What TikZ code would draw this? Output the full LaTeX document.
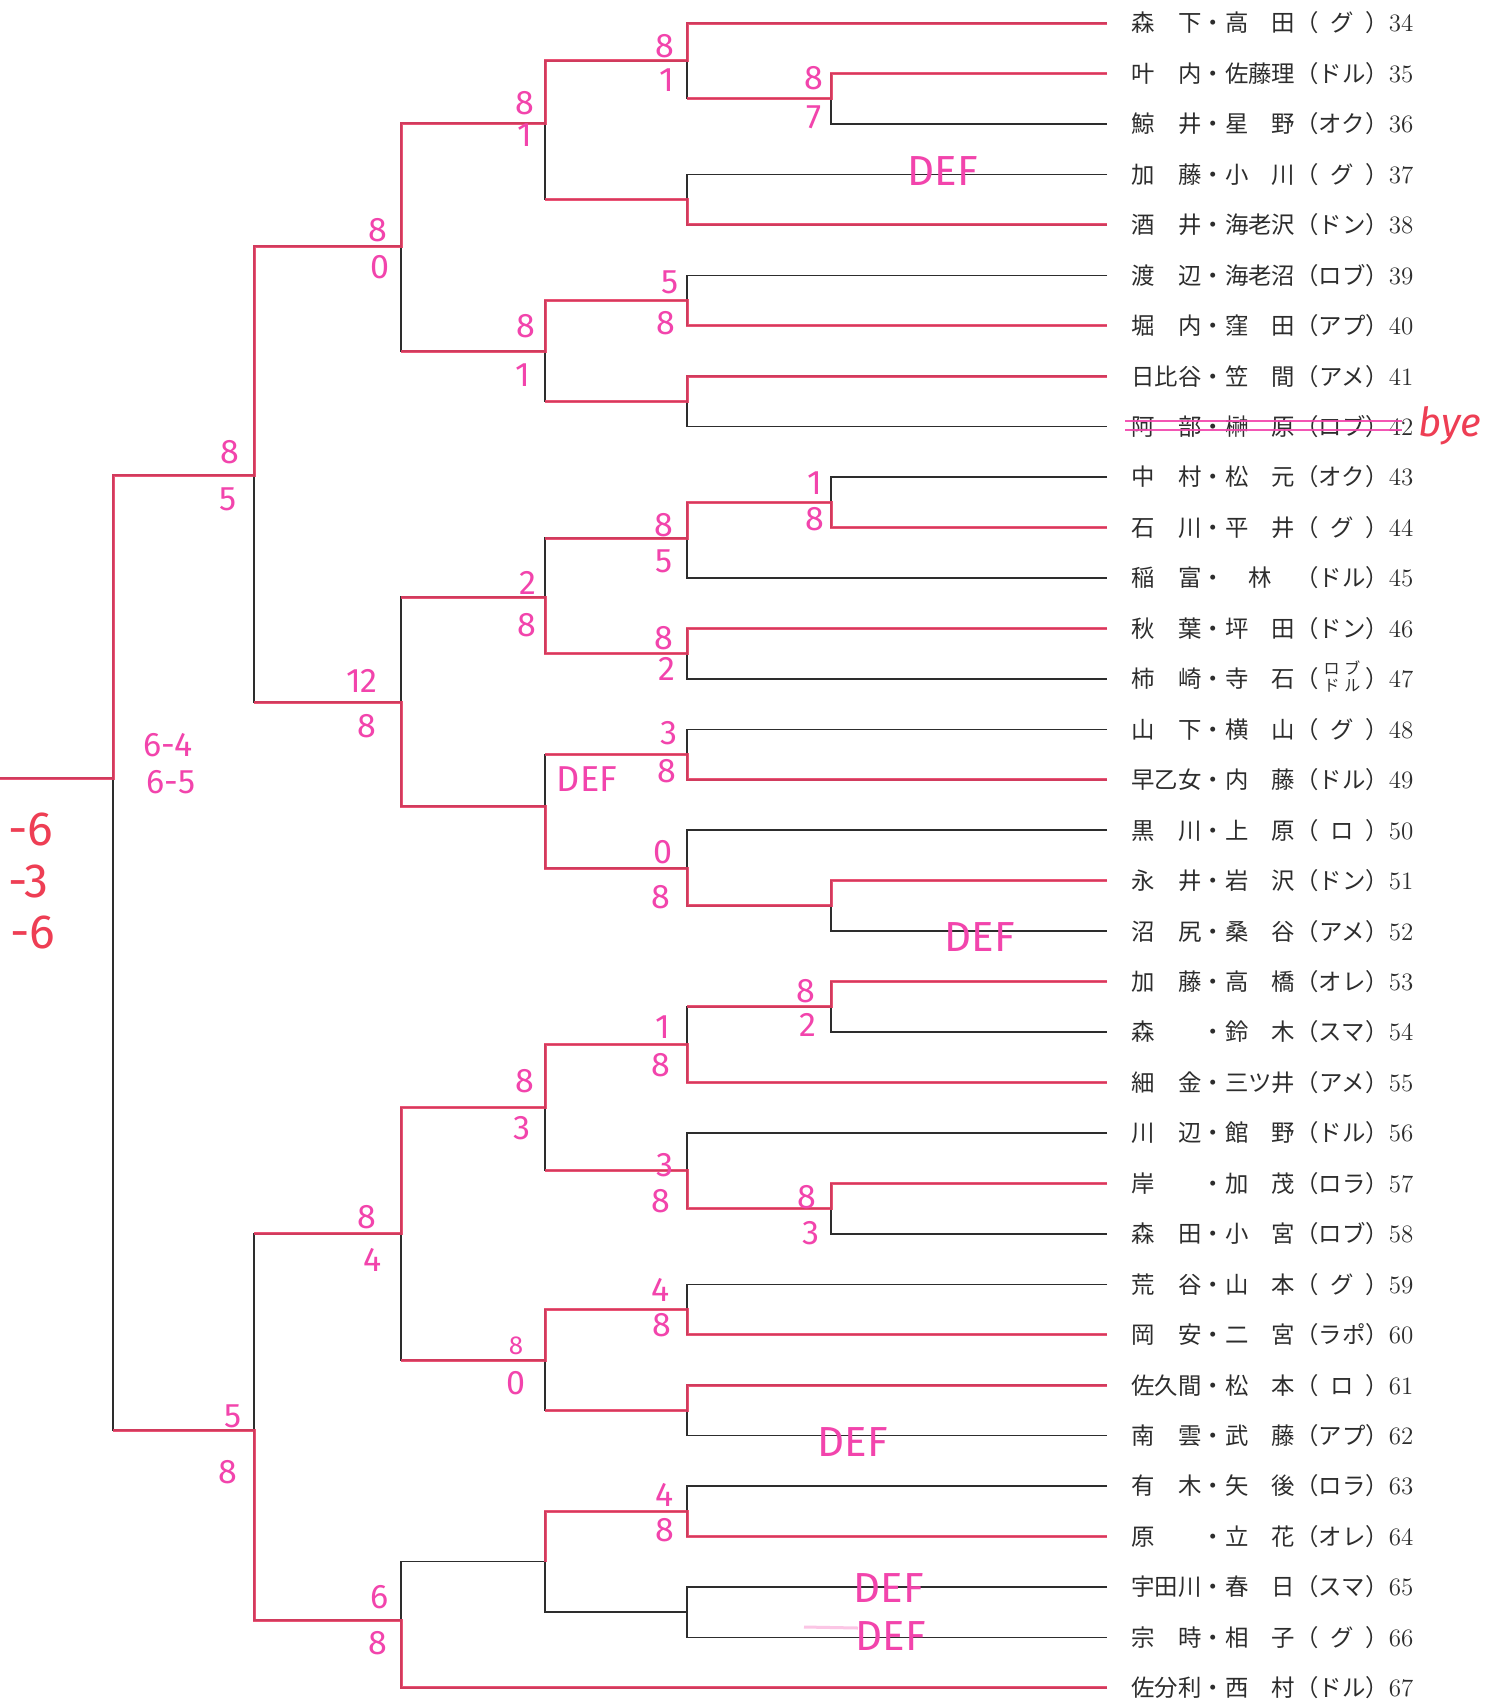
\documentclass[tikz,border=0pt]{standalone}
\usepackage{fontspec}
\newfontfamily\cjk{Noto Sans CJK JP}
\newfontfamily\hand{Fira Sans}
\definecolor{ink}{RGB}{45,45,45}
\definecolor{pinkline}{RGB}{232,62,100}
\definecolor{mag}{RGB}{242,68,172}
\definecolor{redhand}{RGB}{238,62,84}
\newcommand\nmfont{\rmfamily\fontsize{12.5pt}{12.5pt}\selectfont}
\newcommand\ent[3]{#1（\makebox[2em][c]{#2}）{\nmfont #3}}
\newcommand\stk[2]{\raisebox{2.6pt}[0.88em][0.12em]{\fontsize{8pt}{8.2pt}\selectfont\begin{tabular}[c]{@{}c@{}}#1\\#2\end{tabular}}}
\begin{document}
\begin{tikzpicture}[x=0.5pt,y=-0.5pt,
  bl/.style={draw=ink,line width=0.75pt},
  pk/.style={draw=pinkline,line width=1.5pt,opacity=0.88},
  entry/.style={anchor=west,inner sep=0pt,text=ink,font=\cjk\fontsize{11.7pt}{12pt}\selectfont},
  sc/.style={inner sep=0pt,text height=11.7pt,text depth=0pt,text=mag,font=\hand\fontsize{17pt}{17pt}\selectfont},
  scs/.style={sc,text height=9pt,font=\hand\fontsize{13pt}{13pt}\selectfont},
  defl/.style={inner sep=0pt,text height=14.5pt,text depth=0pt,text=mag,font=\hand\fontsize{21pt}{21pt}\selectfont},
  rd/.style={inner sep=0pt,text height=16.6pt,text depth=0pt,text=redhand,font=\hand\fontsize{24pt}{24pt}\selectfont}]
\useasboundingbox (0,0) rectangle (1507,1704);
\fill[white] (0,0) rectangle (1507,1704);
\def\XE{1107}\def\XT{1131}
% row line ends
\coordinate (r34) at (\XE,23.00);
\coordinate (r35) at (\XE,73.45);
\coordinate (r36) at (\XE,123.90);
\coordinate (r37) at (\XE,174.35);
\coordinate (r38) at (\XE,224.80);
\coordinate (r39) at (\XE,275.25);
\coordinate (r40) at (\XE,325.70);
\coordinate (r41) at (\XE,376.15);
\coordinate (r42) at (\XE,426.60);
\coordinate (r43) at (\XE,477.05);
\coordinate (r44) at (\XE,527.50);
\coordinate (r45) at (\XE,577.95);
\coordinate (r46) at (\XE,628.40);
\coordinate (r47) at (\XE,678.85);
\coordinate (r48) at (\XE,729.30);
\coordinate (r49) at (\XE,779.75);
\coordinate (r50) at (\XE,830.20);
\coordinate (r51) at (\XE,880.65);
\coordinate (r52) at (\XE,931.10);
\coordinate (r53) at (\XE,981.55);
\coordinate (r54) at (\XE,1032.00);
\coordinate (r55) at (\XE,1082.45);
\coordinate (r56) at (\XE,1132.90);
\coordinate (r57) at (\XE,1183.35);
\coordinate (r58) at (\XE,1233.80);
\coordinate (r59) at (\XE,1284.25);
\coordinate (r60) at (\XE,1334.70);
\coordinate (r61) at (\XE,1385.15);
\coordinate (r62) at (\XE,1435.60);
\coordinate (r63) at (\XE,1486.05);
\coordinate (r64) at (\XE,1536.50);
\coordinate (r65) at (\XE,1586.95);
\coordinate (r66) at (\XE,1637.40);
\coordinate (r67) at (\XE,1687.85);
% entries
\node[entry] (e34) at (\XT,23.00) {\ent{森　下・高　田}{グ}{34}};
\node[entry] (e35) at (\XT,73.45) {\ent{叶　内・佐藤理}{ドル}{35}};
\node[entry] (e36) at (\XT,123.90) {\ent{鯨　井・星　野}{オク}{36}};
\node[entry] (e37) at (\XT,174.35) {\ent{加　藤・小　川}{グ}{37}};
\node[entry] (e38) at (\XT,224.80) {\ent{酒　井・海老沢}{ドン}{38}};
\node[entry] (e39) at (\XT,275.25) {\ent{渡　辺・海老沼}{ロブ}{39}};
\node[entry] (e40) at (\XT,325.70) {\ent{堀　内・窪　田}{アプ}{40}};
\node[entry] (e41) at (\XT,376.15) {\ent{日比谷・笠　間}{アメ}{41}};
\node[entry] (e42) at (\XT,426.60) {\ent{阿　部・榊　原}{ロブ}{42}};
\node[entry] (e43) at (\XT,477.05) {\ent{中　村・松　元}{オク}{43}};
\node[entry] (e44) at (\XT,527.50) {\ent{石　川・平　井}{グ}{44}};
\node[entry] (e45) at (\XT,577.95) {\ent{稲　富・　林　}{ドル}{45}};
\node[entry] (e46) at (\XT,628.40) {\ent{秋　葉・坪　田}{ドン}{46}};
\node[entry] (e47) at (\XT,678.85) {\ent{柿　崎・寺　石}{\stk{ロ\hspace{0.3em}ブ}{ド\hspace{0.3em}ル}}{47}};
\node[entry] (e48) at (\XT,729.30) {\ent{山　下・横　山}{グ}{48}};
\node[entry] (e49) at (\XT,779.75) {\ent{早乙女・内　藤}{ドル}{49}};
\node[entry] (e50) at (\XT,830.20) {\ent{黒　川・上　原}{ロ}{50}};
\node[entry] (e51) at (\XT,880.65) {\ent{永　井・岩　沢}{ドン}{51}};
\node[entry] (e52) at (\XT,931.10) {\ent{沼　尻・桑　谷}{アメ}{52}};
\node[entry] (e53) at (\XT,981.55) {\ent{加　藤・高　橋}{オレ}{53}};
\node[entry] (e54) at (\XT,1032.00) {\ent{森　　・鈴　木}{スマ}{54}};
\node[entry] (e55) at (\XT,1082.45) {\ent{細　金・三ツ井}{アメ}{55}};
\node[entry] (e56) at (\XT,1132.90) {\ent{川　辺・館　野}{ドル}{56}};
\node[entry] (e57) at (\XT,1183.35) {\ent{岸　　・加　茂}{ロラ}{57}};
\node[entry] (e58) at (\XT,1233.80) {\ent{森　田・小　宮}{ロブ}{58}};
\node[entry] (e59) at (\XT,1284.25) {\ent{荒　谷・山　本}{グ}{59}};
\node[entry] (e60) at (\XT,1334.70) {\ent{岡　安・二　宮}{ラポ}{60}};
\node[entry] (e61) at (\XT,1385.15) {\ent{佐久間・松　本}{ロ}{61}};
\node[entry] (e62) at (\XT,1435.60) {\ent{南　雲・武　藤}{アプ}{62}};
\node[entry] (e63) at (\XT,1486.05) {\ent{有　木・矢　後}{ロラ}{63}};
\node[entry] (e64) at (\XT,1536.50) {\ent{原　　・立　花}{オレ}{64}};
\node[entry] (e65) at (\XT,1586.95) {\ent{宇田川・春　日}{スマ}{65}};
\node[entry] (e66) at (\XT,1637.40) {\ent{宗　時・相　子}{グ}{66}};
\node[entry] (e67) at (\XT,1687.85) {\ent{佐分利・西　村}{ドル}{67}};
% junctions
\coordinate (A1) at (831,98.7);
\coordinate (A2) at (687,60.8);
\coordinate (A3) at (687,199.6);
\coordinate (A4) at (545,123);
\coordinate (A5) at (687,300.5);
\coordinate (A6) at (687,401.4);
\coordinate (A7) at (545,351);
\coordinate (A8) at (401,246);
\coordinate (B1) at (831,502.3);
\coordinate (B2) at (687,538);
\coordinate (B3) at (687,653.6);
\coordinate (B4) at (545,597);
\coordinate (B5) at (687,754.5);
\coordinate (B6) at (831,905.9);
\coordinate (B7) at (687,868);
\coordinate (B8) at (545,806);
\coordinate (B9) at (401,702);
\coordinate (C1) at (254,475);
\coordinate (D1) at (831,1006.8);
\coordinate (D2) at (687,1044.6);
\coordinate (D3) at (831,1208.6);
\coordinate (D4) at (687,1170.7);
\coordinate (D5) at (545,1107.7);
\coordinate (D6) at (687,1309.5);
\coordinate (D7) at (687,1410.4);
\coordinate (D8) at (545,1360);
\coordinate (D9) at (401,1233.8);
\coordinate (E1) at (687,1511.3);
\coordinate (E2) at (687,1612.2);
\coordinate (E3) at (545,1561.7);
\coordinate (E4) at (401,1620);
\coordinate (D10) at (254,1430);
\coordinate (F) at (113,778);
\coordinate (Fl) at (0,778);
% black bracket
\draw[bl] (r35) -| (A1) |- (r36);
\draw[bl] (r34) -| (A2) |- (A1);
\draw[bl] (r37) -| (A3) |- (r38);
\draw[bl] (A2) -| (A4) |- (A3);
\draw[bl] (r39) -| (A5) |- (r40);
\draw[bl] (r41) -| (A6) |- (r42);
\draw[bl] (A5) -| (A7) |- (A6);
\draw[bl] (A4) -| (A8) |- (A7);
\draw[bl] (r43) -| (B1) |- (r44);
\draw[bl] (B1) -| (B2) |- (r45);
\draw[bl] (r46) -| (B3) |- (r47);
\draw[bl] (B2) -| (B4) |- (B3);
\draw[bl] (r48) -| (B5) |- (r49);
\draw[bl] (r51) -| (B6) |- (r52);
\draw[bl] (r50) -| (B7) |- (B6);
\draw[bl] (B5) -| (B8) |- (B7);
\draw[bl] (B4) -| (B9) |- (B8);
\draw[bl] (A8) -| (C1) |- (B9);
\draw[bl] (r53) -| (D1) |- (r54);
\draw[bl] (D1) -| (D2) |- (r55);
\draw[bl] (r57) -| (D3) |- (r58);
\draw[bl] (r56) -| (D4) |- (D3);
\draw[bl] (D2) -| (D5) |- (D4);
\draw[bl] (r59) -| (D6) |- (r60);
\draw[bl] (r61) -| (D7) |- (r62);
\draw[bl] (D6) -| (D8) |- (D7);
\draw[bl] (D5) -| (D9) |- (D8);
\draw[bl] (r63) -| (E1) |- (r64);
\draw[bl] (r65) -| (E2) |- (r66);
\draw[bl] (E1) -| (E3) |- (E2);
\draw[bl] (E3) -| (E4) |- (r67);
\draw[bl] (D9) -| (D10) |- (E4);
\draw[bl] (C1) -| (F) |- (D10);
\draw[bl] (F) -- (Fl);
% pink winner paths
\draw[pk] (r34) -| (A2) -| (A4) -| (A8) -| (C1) -| (F) -- (Fl);
\draw[pk] (r35) -| (A1) -- (A1 -| A2);
\draw[pk] (r38) -| (A3) -- (A3 -| A4);
\draw[pk] (r40) -| (A5) -| (A7) -- (A7 -| A8);
\draw[pk] (r41) -| (A6) -- (A6 -| A7);
\draw[pk] (r44) -| (B1) -| (B2) -- (B2 -| B4);
\draw[pk] (r46) -| (B3) -| (B4) -- (B4 -| B9);
\draw[pk] (r49) -| (B5) -- (B5 -| B8);
\draw[pk] (r51) -| (B6) -| (B7) -| (B8) -| (B9) -- (B9 -| C1);
\draw[pk] (r53) -| (D1) -- (D1 -| D2);
\draw[pk] (r55) -| (D2) -| (D5) -| (D9) -- (D9 -| D10);
\draw[pk] (r57) -| (D3) -| (D4) -- (D4 -| D5);
\draw[pk] (r60) -| (D6) -| (D8) -- (D8 -| D9);
\draw[pk] (r61) -| (D7) -- (D7 -| D8);
\draw[pk] (r64) -| (E1) -| (E3);
\draw[pk] (r67) -| (E4) -| (D10) -- (D10 -| F);
% bye strike-through
\coordinate (k1a) at (1125,421); \coordinate (k1b) at (1402,421);
\coordinate (k2a) at (1125,430); \coordinate (k2b) at (1402,430);
\draw[draw=mag,line width=1.4pt,opacity=0.9] (k1a) -- (k1b);
\draw[draw=mag,line width=1.4pt,opacity=0.9] (k2a) -- (k2b);
\node[inner sep=0pt,text=redhand,font=\hand\itshape\fontsize{20pt}{20pt}\selectfont] (bye) at (1450,426) {bye};
% scores
\node[sc] (s1) at (665,46) {8};   \node[sc] (s2) at (667,80) {1};
\node[sc] (s3) at (814,78) {8};   \node[sc] (s4) at (814,117) {7};
\node[sc] (s5) at (525,103) {8};  \node[sc] (s6) at (525,135) {1};
\node[sc] (s7) at (378,230) {8};  \node[sc] (s8) at (380,267) {0};
\node[sc] (s9) at (670,282) {5};  \node[sc] (s10) at (666,323) {8};
\node[sc] (s11) at (526,326) {8}; \node[sc] (s12) at (523,375) {1};
\node[sc] (s13) at (230,452) {8}; \node[sc] (s14) at (228,499) {5};
\node[sc] (s15) at (815,483) {1}; \node[sc] (s16) at (815,519) {8};
\node[sc] (s17) at (664,525) {8}; \node[sc] (s18) at (664,561) {5};
\node[sc] (s19) at (528,583) {2}; \node[sc] (s20) at (527,625) {8};
\node[sc] (s21) at (664,638) {8}; \node[sc] (s22) at (667,669) {2};
\node[sc] (s23) at (362,681) {12}; \node[sc] (s24) at (367,726) {8};
\node[sc] (s25) at (669,733) {3}; \node[sc] (s26) at (667,771) {8};
\node[sc] (s27) at (663,852) {0}; \node[sc] (s28) at (661,897) {8};
\node[sc] (s29) at (806,991) {8}; \node[sc] (s30) at (808,1025) {2};
\node[sc] (s31) at (663,1027) {1}; \node[sc] (s32) at (661,1065) {8};
\node[sc] (s33) at (525,1081) {8}; \node[sc] (s34) at (522,1128) {3};
\node[sc] (s35) at (665,1165) {3}; \node[sc] (s36) at (661,1201) {8};
\node[sc] (s37) at (807,1197) {8}; \node[sc] (s38) at (811,1233) {3};
\node[sc] (s39) at (367,1217) {8}; \node[sc] (s40) at (373,1260) {4};
\node[sc] (s41) at (661,1290) {4}; \node[sc] (s42) at (662,1325) {8};
\node[scs] (s43) at (516,1345) {8}; \node[sc] (s44) at (516,1383) {0};
\node[sc] (s45) at (233,1416) {5}; \node[sc] (s46) at (228,1472) {8};
\node[sc] (s47) at (665,1495) {4}; \node[sc] (s48) at (665,1530) {8};
\node[sc] (s49) at (380,1597) {6}; \node[sc] (s50) at (378,1643) {8};
% set scores and DEF marks
\node[sc] (g1) at (168,745) {6-4};
\node[sc] (g2) at (171,782) {6-5};
\node[defl] (d1) at (943,171) {DEF};
\node[defl,text height=12.4pt,font=\hand\fontsize{18pt}{18pt}\selectfont] (d2) at (587,779) {DEF};
\node[defl] (d3) at (980,937) {DEF};
\node[defl] (d4) at (853,1442) {DEF};
\node[defl] (d5) at (889,1588) {DEF};
\node[defl] (d6) at (891,1636) {DEF};
\coordinate (fa) at (804,1627); \coordinate (fb) at (858,1628);
\draw[draw=mag,line width=1.5pt,opacity=0.3] (fa) -- (fb);
% left margin marks
\node[rd,anchor=west] (m1) at (8,829) {-6};
\node[rd,anchor=west] (m2) at (8,881) {-3};
\node[rd,anchor=west] (m3) at (10,932) {-6};
\end{tikzpicture}
\end{document}
